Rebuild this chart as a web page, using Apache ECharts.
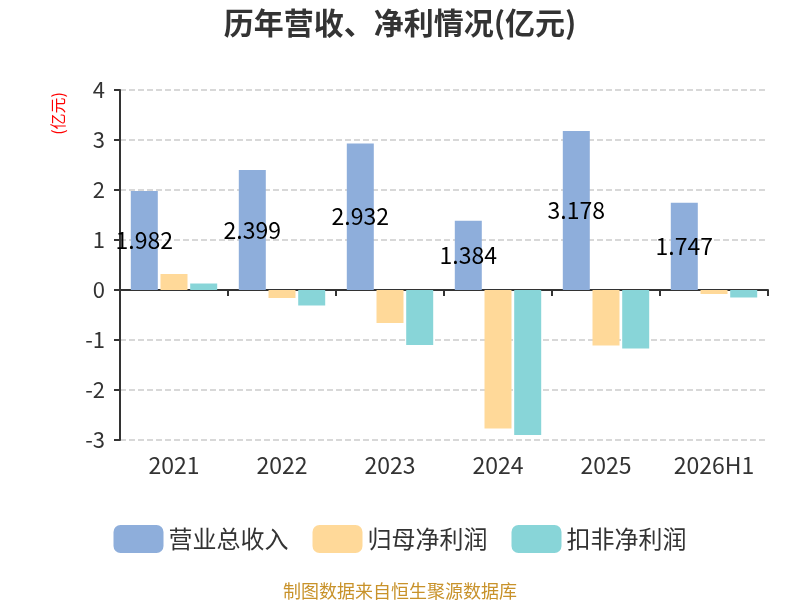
<!DOCTYPE html>
<html>
<head>
<meta charset="utf-8">
<script src="https://cdn.jsdelivr.net/npm/echarts@6/dist/echarts.min.js"></script>
<style>html,body{margin:0;padding:0;background:#fff;}#main{width:800px;height:600px;}</style>
</head>
<body>
<div id="main"></div>
<script>
var categories = ['2021', '2022', '2023', '2024', '2025', '2026H1'];
var revenue = [1.982, 2.399, 2.932, 1.384, 3.178, 1.747];
var netProfit = [0.32, -0.16, -0.66, -2.77, -1.11, -0.08];
var deductedProfit = [0.13, -0.31, -1.10, -2.90, -1.17, -0.15];
var seriesNames = ['营业总收入', '归母净利润', '扣非净利润'];

var font = '"Noto Sans CJK SC", "Noto Sans", sans-serif';
var chart = echarts.init(document.getElementById('main'));
chart.setOption({
  animation: false,
  color: ['#8eaedb', '#ffd999', '#88d5d8'],
  title: [{
    text: '历年营收、净利情况(亿元)',
    left: 'center',
    top: 3,
    textStyle: { fontSize: 30, fontWeight: 'bold', color: '#333', fontFamily: font }
  }, {
    text: '制图数据来自恒生聚源数据库',
    left: 'center',
    top: 577,
    textStyle: { fontSize: 18, fontWeight: 'normal', color: '#c8922a', fontFamily: font }
  }],
  graphic: [{
    type: 'text',
    left: 50,
    top: 92,
    rotation: Math.PI / 2,
    style: { text: '(亿元)', fill: '#ff0000', fontSize: 16, fontFamily: font }
  }],
  legend: {
    data: seriesNames,
    top: 520,
    left: 'center',
    itemWidth: 50,
    itemHeight: 28,
    itemGap: 24,
    textStyle: { fontSize: 24, color: '#333', fontFamily: font }
  },
  grid: { left: 120, right: 32, top: 90, bottom: 160 },
  xAxis: {
    type: 'category',
    data: categories,
    axisLine: { lineStyle: { color: '#333', width: 2 } },
    axisTick: { show: true, length: 6, lineStyle: { color: '#333', width: 2 } },
    axisLabel: { fontSize: 23, color: '#333', margin: 14, fontFamily: font }
  },
  yAxis: {
    type: 'value',
    min: -3,
    max: 4,
    interval: 1,
    axisLine: { show: true, lineStyle: { color: '#333', width: 2 } },
    axisTick: { show: true, length: 6, lineStyle: { color: '#333', width: 2 } },
    axisLabel: { fontSize: 22, color: '#333', margin: 15, fontFamily: font },
    splitLine: { lineStyle: { type: 'dashed', color: '#ccc', width: 1.5 } }
  },
  series: [{
    name: seriesNames[0],
    type: 'bar',
    data: revenue,
    barGap: '10%',
    barCategoryGap: '20%',
    label: { show: true, position: 'inside', color: '#000', fontSize: 23, fontFamily: font }
  }, {
    name: seriesNames[1],
    type: 'bar',
    data: netProfit
  }, {
    name: seriesNames[2],
    type: 'bar',
    data: deductedProfit
  }]
});
</script>
</body>
</html>
